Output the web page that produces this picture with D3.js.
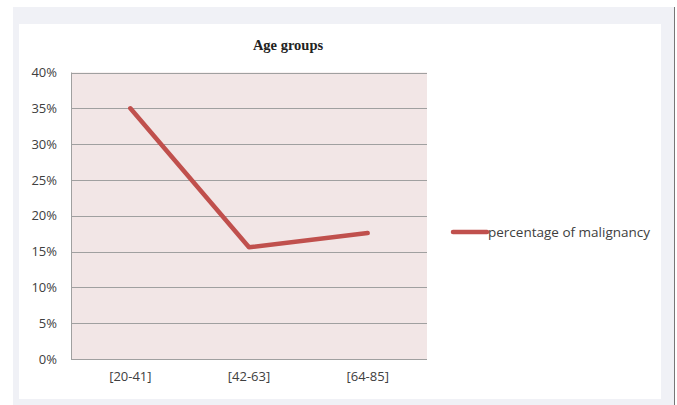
<!DOCTYPE html>
<html>
<head>
<meta charset="utf-8">
<script src="https://cdn.jsdelivr.net/npm/d3@7"></script>
<style>
  body { margin: 0; background: #fff; }
  svg text { font-family: "Open Sans", "Liberation Sans", sans-serif; fill: #404040; }
</style>
</head>
<body>
<div id="chart"></div>
<script>
var categories = ['[20-41]', '[42-63]', '[64-85]'];
var malignancy = [0.35, 0.156, 0.176];
var yTicks = [0, 0.05, 0.10, 0.15, 0.20, 0.25, 0.30, 0.35, 0.40];
var seriesName = 'percentage of malignancy';
var title = 'Age groups';

var w = 677;
var h = 405;

var svg = d3.select('#chart').append('svg')
  .attr('width', w)
  .attr('height', h);

// outer frame
svg.append('rect').attr('x', 13).attr('y', 7).attr('width', 661).attr('height', 398).attr('fill', '#f0f1f6');
svg.append('line').attr('x1', 674.5).attr('x2', 674.5).attr('y1', 7).attr('y2', 405).attr('stroke', '#777').attr('stroke-width', 1);
svg.append('rect').attr('x', 19).attr('y', 24).attr('width', 642).attr('height', 375).attr('fill', '#fff');

var plot = { left: 71, top: 72.5, right: 427, bottom: 359 };

var x = d3.scaleBand().domain(categories).range([plot.left, plot.right]);
var y = d3.scaleLinear().domain([0, 0.4]).range([plot.bottom, plot.top]);

svg.append('rect')
  .attr('x', plot.left).attr('y', plot.top)
  .attr('width', plot.right - plot.left).attr('height', plot.bottom - plot.top)
  .attr('fill', '#f2e6e6');

svg.selectAll('line.grid').data(yTicks).enter().append('line')
  .attr('class', 'grid')
  .attr('x1', plot.left).attr('x2', plot.right)
  .attr('y1', function (d) { return Math.round(y(d)) + 0.5; })
  .attr('y2', function (d) { return Math.round(y(d)) + 0.5; })
  .attr('stroke', '#a0a0a0').attr('stroke-width', 1);

// left border of the plot
svg.append('line')
  .attr('x1', plot.left + 0.5).attr('x2', plot.left + 0.5)
  .attr('y1', plot.top).attr('y2', plot.bottom)
  .attr('stroke', '#a0a0a0');

var yAxis = d3.axisLeft(y).tickValues(yTicks).tickSize(0).tickPadding(14).tickFormat(d3.format('.0%'));
var gy = svg.append('g').attr('transform', 'translate(' + plot.left + ',0)').call(yAxis);
gy.select('.domain').remove();
gy.selectAll('text').style('font-size', '13px');

var xAxis = d3.axisBottom(x).tickSize(0).tickPadding(13);
var gx = svg.append('g').attr('transform', 'translate(0,' + plot.bottom + ')').call(xAxis);
gx.select('.domain').remove();
gx.selectAll('text').style('font-size', '13px');

var line = d3.line()
  .x(function (d, i) { return x(categories[i]) + x.bandwidth() / 2; })
  .y(function (d) { return y(d); });

svg.append('path')
  .datum(malignancy)
  .attr('d', line)
  .attr('fill', 'none')
  .attr('stroke', '#c0504d')
  .attr('stroke-width', 4.5)
  .attr('stroke-linecap', 'round')
  .attr('stroke-linejoin', 'round');

svg.append('text')
  .attr('x', 288).attr('y', 50)
  .attr('text-anchor', 'middle')
  .style('font-family', '"Liberation Serif", "DejaVu Serif", serif')
  .style('font-weight', 'bold')
  .style('font-size', '14.5px')
  .style('fill', '#222')
  .text(title);

var legend = svg.append('g').attr('transform', 'translate(453,232)');
legend.append('line')
  .attr('x1', 0).attr('x2', 34).attr('y1', 0).attr('y2', 0)
  .attr('stroke', '#c0504d').attr('stroke-width', 4.5).attr('stroke-linecap', 'round');
legend.append('text')
  .attr('x', 35).attr('y', 5)
  .style('font-size', '13.5px')
  .text(seriesName);
</script>
</body>
</html>
